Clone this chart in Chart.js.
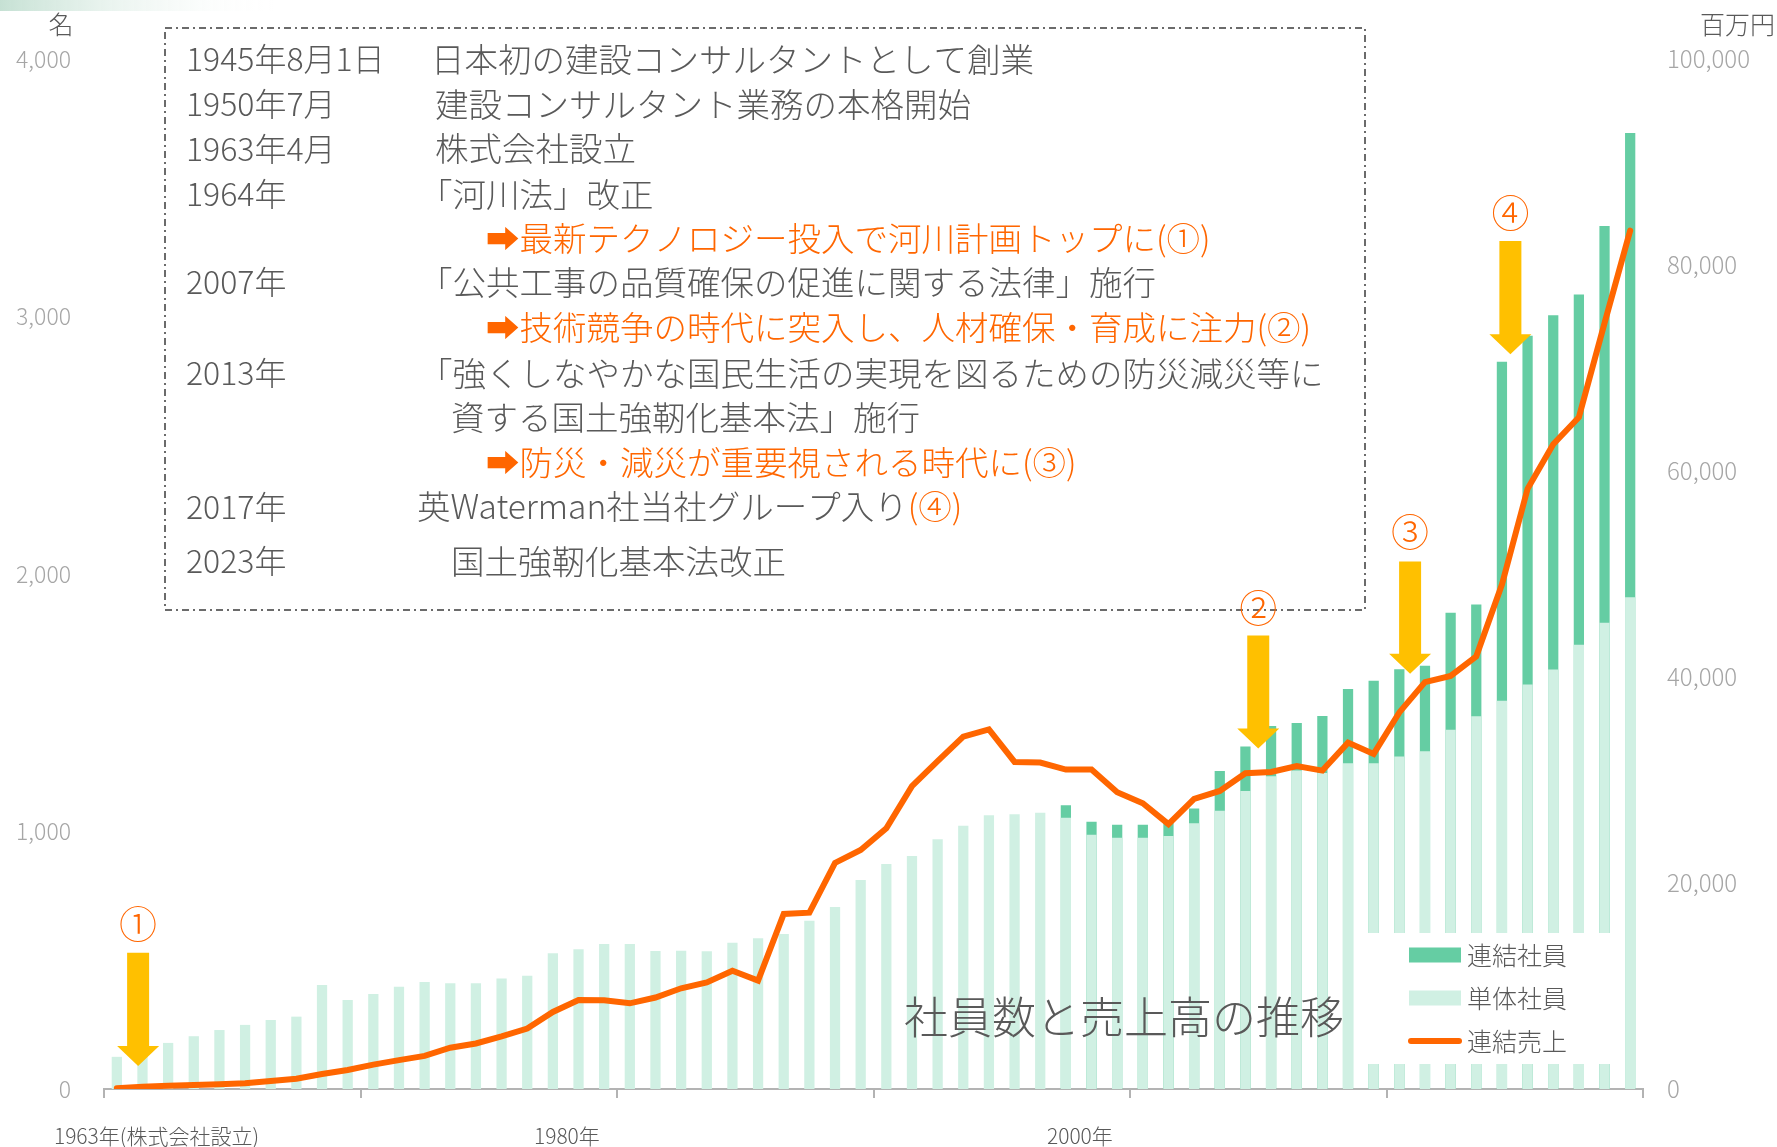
<!DOCTYPE html>
<html lang="ja">
<head>
    <meta charset="UTF-8">
    <title>社員数と売上高の推移</title>
    <script src="https://cdn.jsdelivr.net/npm/chart.js@4.4.1/dist/chart.umd.min.js"></script>
    <style>
        html, body {
            margin: 0;
            padding: 0;
            background: #fff;
        }
        #wrap {
            position: relative;
            width: 1777px;
            height: 1147px;
            overflow: hidden;
        }
    </style>
</head>
<body>
    <div id="wrap"><canvas id="chart"></canvas></div>
    <script>
        // 年度 (1963年〜2022年)
        const years = [
            '1963', '1964', '1965', '1966', '1967', '1968', '1969', '1970', '1971', '1972',
            '1973', '1974', '1975', '1976', '1977', '1978', '1979', '1980', '1981', '1982',
            '1983', '1984', '1985', '1986', '1987', '1988', '1989', '1990', '1991', '1992',
            '1993', '1994', '1995', '1996', '1997', '1998', '1999', '2000', '2001', '2002',
            '2003', '2004', '2005', '2006', '2007', '2008', '2009', '2010', '2011', '2012',
            '2013', '2014', '2015', '2016', '2017', '2018', '2019', '2020', '2021', '2022'
        ];

        // 単体社員 (名)
        const staffSingle = [
            125, 155, 179, 205, 229, 249, 268, 281, 404, 346,
            369, 397, 416, 411, 411, 429, 440, 527, 543, 563,
            563, 536, 537, 535, 568, 585, 602, 653, 707, 812,
            874, 905, 970, 1022, 1063, 1067, 1073, 1053, 987, 976,
            976, 983, 1032, 1081, 1157, 1215, 1237, 1227, 1265, 1265,
            1291, 1312, 1395, 1448, 1508, 1571, 1629, 1725, 1811, 1910
        ];

        // 連結社員 (名) 2000年から
        const staffGroup = [
            null, null, null, null, null, null, null, null, null, null,
            null, null, null, null, null, null, null, null, null, null,
            null, null, null, null, null, null, null, null, null, null,
            null, null, null, null, null, null, null, 1102, 1038, 1026,
            1026, 1033, 1089, 1235, 1330, 1410, 1421, 1449, 1553, 1585,
            1630, 1644, 1850, 1882, 2824, 2925, 3005, 3085, 3351, 3713
        ];

        // 連結売上 (百万円)
        const salesGroup = [
            80, 230, 320, 390, 450, 560, 780, 1000, 1450, 1850,
            2370, 2800, 3220, 4010, 4420, 5100, 5870, 7480, 8630, 8620,
            8320, 8880, 9780, 10340, 11490, 10520, 16990, 17120, 21950, 23210,
            25310, 29400, 31830, 34210, 34920, 31750, 31700, 31010, 31010, 28820,
            27740, 25710, 28160, 28940, 30650, 30780, 31360, 30910, 33630, 32530,
            36560, 39500, 40110, 42010, 48980, 58270, 62600, 65210, 74360, 83340
        ];

        // 目盛り
        const leftTicks = [0, 1000, 2000, 3000, 4000];
        const rightTicks = [0, 20000, 40000, 60000, 80000, 100000];
        const xTickYears = ['1964', '1980', '2000'];
        const xTickTexts = ['1963年(株式会社設立)', '1980年', '2000年'];

        // 矢印の注記 (①〜④)
        const markerTexts = ['①', '②', '③', '④'];
        const markerAt = [0.83, 44.5, 50.42, 54.33];     // カテゴリ位置
        const markerLabelY = [641, 1870, 2165, 3405];    // 左軸の値
        const arrowTop = [529, 1761, 2049, 3293];
        const arrowTip = [89, 1322, 1613, 2853];

        // 沿革の枠内テキスト
        const historyLines = [
            { y: 59, date: '1945年8月1日', text: '日本初の建設コンサルタントとして創業', tx: 431 },
            { y: 104, date: '1950年7月', text: '建設コンサルタント業務の本格開始', tx: 435 },
            { y: 148.5, date: '1963年4月', text: '株式会社設立', tx: 435 },
            { y: 194, date: '1964年', text: '「河川法」改正', tx: 419 },
            { y: 238, note: '➡最新テクノロジー投入で河川計画トップに(①)', tx: 486 },
            { y: 282, date: '2007年', text: '「公共工事の品質確保の促進に関する法律」施行', tx: 419 },
            { y: 327.5, note: '➡技術競争の時代に突入し、人材確保・育成に注力(②)', tx: 486 },
            { y: 373, date: '2013年', text: '「強くしなやかな国民生活の実現を図るための防災減災等に', tx: 419 },
            { y: 417, text: '資する国土強靭化基本法」施行', tx: 451 },
            { y: 462, note: '➡防災・減災が重要視される時代に(③)', tx: 486 },
            { y: 506.6, date: '2017年', text: '英Waterman社当社グループ入り', note: '(④)', tx: 417 },
            { y: 561, date: '2023年', text: '国土強靭化基本法改正', tx: 451 }
        ];

        const FONT = "'Noto Sans CJK JP', 'Noto Sans', sans-serif";
        const GRAY = '#595959';
        const ORANGE = '#ff6600';
        const DARK_GREEN = '#65cda3';
        const LIGHT_GREEN = '#d0f0e3';
        const YELLOW = '#ffc000';

        function font(size, weight) {
            return (weight || '300') + ' ' + size + 'px ' + FONT;
        }

        // 枠・テキスト・矢印・凡例を描く
        const decoPlugin = {
            id: 'deco',
            afterDatasetsDraw(chart) {
                const ctx = chart.ctx;
                const x = chart.scales.x;
                const y = chart.scales.y;
                ctx.save();

                // 左上の帯
                const g = ctx.createLinearGradient(0, 0, 280, 0);
                g.addColorStop(0, '#c6e1d4');
                g.addColorStop(1, 'rgba(255,255,255,0)');
                ctx.fillStyle = g;
                ctx.fillRect(0, 0, 280, 11);

                // 単位
                ctx.fillStyle = GRAY;
                ctx.textBaseline = 'middle';
                ctx.textAlign = 'center';
                ctx.font = font(25);
                ctx.fillText('名', 61, 24);
                ctx.textAlign = 'left';
                ctx.fillText('百万円', 1700, 24);

                // 一点鎖線の枠
                ctx.strokeStyle = '#6b6b6b';
                ctx.lineWidth = 2;
                ctx.setLineDash([7, 4, 2, 4]);
                ctx.strokeRect(165, 28, 1200, 582);
                ctx.setLineDash([]);

                // 沿革テキスト
                ctx.textAlign = 'left';
                historyLines.forEach(l => {
                    let cx = l.tx;
                    if (l.date) {
                        ctx.font = font(32);
                        ctx.fillStyle = GRAY;
                        ctx.fillText(l.date, 186, l.y);
                    }
                    ctx.font = font(33.5);
                    if (l.text) {
                        ctx.fillStyle = GRAY;
                        ctx.fillText(l.text, cx, l.y);
                        cx += ctx.measureText(l.text).width;
                    }
                    if (l.note) {
                        ctx.fillStyle = ORANGE;
                        ctx.fillText(l.note, cx, l.y);
                    }
                });

                // 矢印と丸数字
                markerTexts.forEach((m, i) => {
                    const cx = x.getPixelForValue(markerAt[i]);
                    const top = y.getPixelForValue(arrowTop[i]);
                    const tip = y.getPixelForValue(arrowTip[i]);
                    const shaft = 22, head = 42, headH = 20;
                    ctx.fillStyle = YELLOW;
                    ctx.beginPath();
                    ctx.moveTo(cx - shaft / 2, top);
                    ctx.lineTo(cx + shaft / 2, top);
                    ctx.lineTo(cx + shaft / 2, tip - headH);
                    ctx.lineTo(cx + head / 2, tip - headH);
                    ctx.lineTo(cx, tip);
                    ctx.lineTo(cx - head / 2, tip - headH);
                    ctx.lineTo(cx - shaft / 2, tip - headH);
                    ctx.closePath();
                    ctx.fill();

                    ctx.fillStyle = ORANGE;
                    ctx.textAlign = 'center';
                    ctx.font = font(38);
                    ctx.fillText(m, cx, y.getPixelForValue(markerLabelY[i]));
                });

                // タイトル
                ctx.fillStyle = GRAY;
                ctx.textAlign = 'left';
                ctx.font = font(44);
                ctx.fillText('社員数と売上高の推移', 904, 1017);

                // 凡例 (白地)
                ctx.fillStyle = '#fff';
                ctx.fillRect(1360, 933, 258, 131);
                const ds = chart.data.datasets;
                const rows = [955, 998, 1041];
                ctx.font = font(25);
                ds.forEach((d, i) => {
                    const ry = rows[i];
                    if (d.type === 'line') {
                        ctx.strokeStyle = d.borderColor;
                        ctx.lineWidth = 6;
                        ctx.lineCap = 'round';
                        ctx.beginPath();
                        ctx.moveTo(1411, ry);
                        ctx.lineTo(1459, ry);
                        ctx.stroke();
                    } else {
                        ctx.fillStyle = d.backgroundColor;
                        ctx.fillRect(1409, ry - 7.5, 52, 15);
                    }
                    ctx.fillStyle = GRAY;
                    ctx.textAlign = 'left';
                    ctx.fillText(d.label, 1467, ry);
                });

                ctx.restore();
            }
        };

        const ctx = document.getElementById('chart').getContext('2d');
        const chart = new Chart(ctx, {
            data: {
                labels: years,
                datasets: [
                    {
                        type: 'bar',
                        label: '連結社員',
                        data: staffGroup,
                        backgroundColor: DARK_GREEN,
                        grouped: false,
                        order: 2,
                        yAxisID: 'y',
                        categoryPercentage: 1,
                        barPercentage: 0.4
                    },
                    {
                        type: 'bar',
                        label: '単体社員',
                        data: staffSingle,
                        backgroundColor: LIGHT_GREEN,
                        grouped: false,
                        order: 1,
                        yAxisID: 'y',
                        categoryPercentage: 1,
                        barPercentage: 0.4
                    },
                    {
                        type: 'line',
                        label: '連結売上',
                        data: salesGroup,
                        borderColor: ORANGE,
                        borderWidth: 6,
                        borderCapStyle: 'round',
                        borderJoinStyle: 'miter',
                        pointRadius: 0,
                        tension: 0,
                        order: 0,
                        yAxisID: 'y1'
                    }
                ]
            },
            options: {
                responsive: true,
                maintainAspectRatio: false,
                animation: false,
                layout: { padding: { top: 59, left: 0, right: 0, bottom: 0 } },
                plugins: {
                    legend: { display: false },
                    tooltip: { enabled: false }
                },
                scales: {
                    x: {
                        type: 'category',
                        offset: true,
                        afterFit: s => { s.height = 58; },
                        grid: {
                            display: true,
                            offset: true,
                            drawOnChartArea: false,
                            drawTicks: true,
                            tickLength: 9,
                            lineWidth: 2,
                            color: c => (c.index === undefined || c.index % 10 === 0) ? '#b3b3b3' : 'rgba(0,0,0,0)'
                        },
                        border: { display: true, color: '#b3b3b3', width: 2 },
                        ticks: {
                            autoSkip: false,
                            maxRotation: 0,
                            minRotation: 0,
                            labelOffset: 14,
                            padding: 25,
                            color: GRAY,
                            font: { family: FONT, size: 21, weight: '300' },
                            callback: function (value) {
                                const k = xTickYears.indexOf(this.getLabelForValue(value));
                                return k < 0 ? '' : xTickTexts[k];
                            }
                        }
                    },
                    y: {
                        position: 'left',
                        min: 0,
                        max: 4000,
                        afterFit: s => { s.width = 104; },
                        afterBuildTicks: s => { s.ticks = leftTicks.map(v => ({ value: v })); },
                        grid: { display: false },
                        border: { display: false },
                        ticks: {
                            padding: 25,
                            color: '#a6a6a6',
                            font: { family: FONT, size: 23, weight: '300' },
                            callback: v => v.toLocaleString('en-US')
                        }
                    },
                    y1: {
                        position: 'right',
                        min: 0,
                        max: 100000,
                        afterFit: s => { s.width = 134; },
                        afterBuildTicks: s => { s.ticks = rightTicks.map(v => ({ value: v })); },
                        grid: { display: false },
                        border: { display: false },
                        ticks: {
                            padding: 16,
                            color: '#a6a6a6',
                            font: { family: FONT, size: 24, weight: '300' },
                            callback: v => v.toLocaleString('en-US')
                        }
                    }
                }
            },
            plugins: [decoPlugin]
        });
    </script>
</body>
</html>
